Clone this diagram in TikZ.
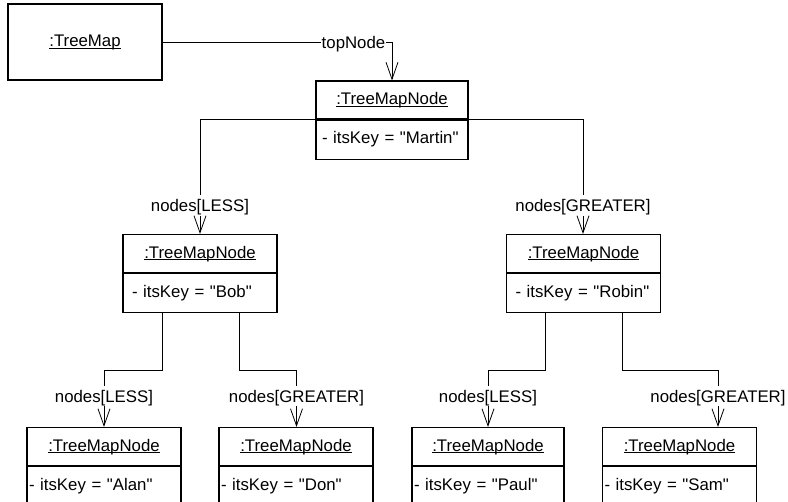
\documentclass[tikz,border=0pt]{standalone}
\usepackage{fontspec}
\setmainfont{Liberation Sans}[Ligatures=TeXOff]
\usetikzlibrary{positioning,arrows.meta}
\newcommand{\objname}[1]{\underline{\smash{#1}}\vphantom{T}}

\begin{document}
\begin{tikzpicture}[x=1pt, y=-1pt,
        every node/.style={font=\fontsize{16.8}{20}\selectfont},
        headbox/.style={draw, line width=1.1pt, minimum width=154pt, minimum height=38pt, inner sep=0pt},
        keybox/.style={draw, line width=1.1pt, minimum height=39pt, inner ysep=0pt, inner xsep=9pt, text width=136pt, align=left},
        lowkey/.style={keybox, inner xsep=2pt, text width=150pt},
        rolelabel/.style={inner xsep=1pt, inner ysep=4pt, text height=12.5pt, text depth=0pt},
        wire/.style={line width=0.8pt},
        nav/.style={wire, -{Straight Barb[length=17pt, width=12pt]}}]
        \useasboundingbox (0,0) rectangle (788,502);
        \clip (0,0) rectangle (788,502);

        % Pieces
        \node[headbox, minimum height=76pt] (TM) at (85, 42) {\objname{:TreeMap}};
        \node[headbox, minimum width=152pt] (Martin) at (392, 100) {\objname{:TreeMapNode}};
        \node[keybox, inner xsep=6pt, text width=140pt, below=0pt of Martin] (MartinKey) {\mbox{- itsKey = "Martin"}};
        \node[headbox] (Bob) at (200, 253.5) {\objname{:TreeMapNode}};
        \node[keybox, below=0pt of Bob] (BobKey) {- itsKey = "Bob"};
        \node[headbox] (Robin) at (583.5, 253.5) {\objname{:TreeMapNode}};
        \node[keybox, below=0pt of Robin] (RobinKey) {- itsKey = "Robin"};
        \node[headbox] (Alan) at (104, 446.5) {\objname{:TreeMapNode}};
        \node[lowkey, below=0pt of Alan] (AlanKey) {- itsKey = "Alan"};
        \node[headbox] (Don) at (296, 446.5) {\objname{:TreeMapNode}};
        \node[lowkey, below=0pt of Don] (DonKey) {- itsKey = "Don"};
        \node[headbox, minimum width=152pt] (Paul) at (488, 446.5) {\objname{:TreeMapNode}};
        \node[lowkey, text width=148pt, below=0pt of Paul] (PaulKey) {- itsKey = "Paul"};
        \node[headbox] (Sam) at (679.5, 446.5) {\objname{:TreeMapNode}};
        \node[lowkey, below=0pt of Sam] (SamKey) {- itsKey = "Sam"};

        % Role names
        \node[rolelabel] (top) at (353.5, 42) {topNode};
        \node[rolelabel] (lessA) at (200, 205.5) {nodes[LESS]};
        \node[rolelabel] (greaterA) at (583, 205.5) {nodes[GREATER]};
        \node[rolelabel] (lessB) at (104, 396) {nodes[LESS]};
        \node[rolelabel] (greaterB) at (296.5, 396) {nodes[GREATER]};
        \node[rolelabel] (lessC) at (488, 396) {nodes[LESS]};
        \node[rolelabel] (greaterC) at (718, 396) {nodes[GREATER]};
        \coordinate (topBend) at (392, 42);

        % Arrows
        \draw[wire] (TM.east) -- (top.west);
        \draw[wire] (top.east) -- (topBend);
        \draw[nav] (topBend) -- (topBend |- Martin.north);
        \draw[wire] (MartinKey.north west) -| (lessA.north);
        \draw[nav] (lessA.south) -- (lessA.south |- Bob.north);
        \draw[wire] (MartinKey.north east) -| (greaterA.north);
        \draw[nav] (greaterA.south) -- (greaterA.south |- Robin.north);
        \draw[wire] ([xshift=-38pt]BobKey.south) -- ++(0, 57) -| (lessB.north);
        \draw[nav] (lessB.south) -- (lessB.south |- Alan.north);
        \draw[wire] ([xshift=39pt]BobKey.south) -- ++(0, 57) -| (greaterB.north);
        \draw[nav] (greaterB.south) -- (greaterB.south |- Don.north);
        \draw[wire] ([xshift=-38.5pt]RobinKey.south) -- ++(0, 57) -| (lessC.north);
        \draw[nav] (lessC.south) -- (lessC.south |- Paul.north);
        \draw[wire] ([xshift=38.5pt]RobinKey.south) -- ++(0, 57) -| (greaterC.north);
        \draw[nav] (greaterC.south) -- (greaterC.south |- Sam.north);
\end{tikzpicture}
\end{document}
